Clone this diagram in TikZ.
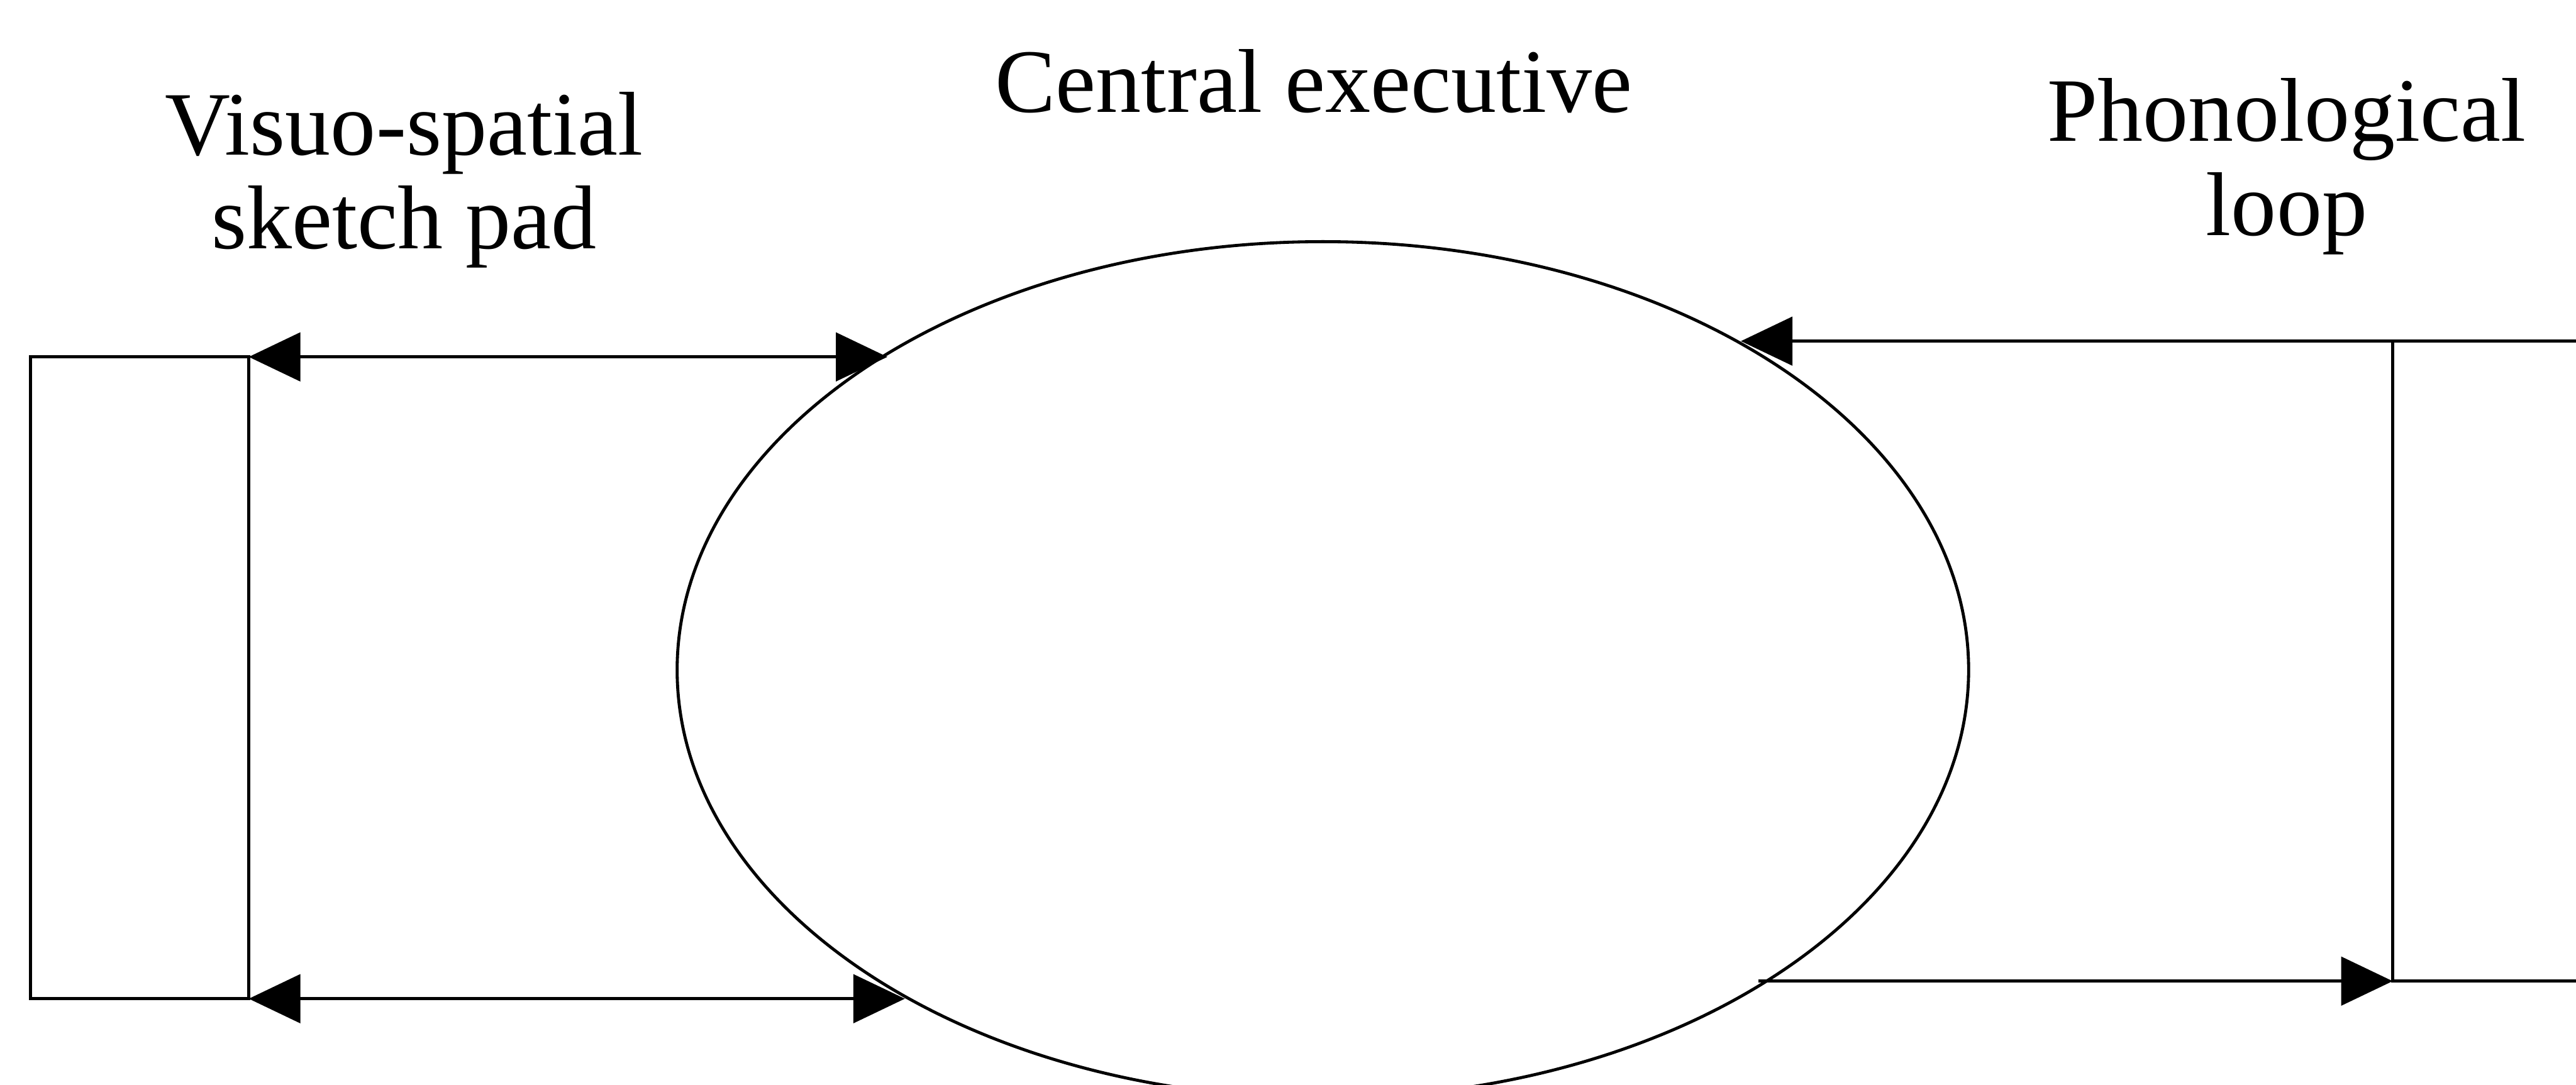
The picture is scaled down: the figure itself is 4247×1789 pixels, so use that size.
\documentclass[tikz,border=0pt]{standalone}
\usepackage{fontspec}
\setmainfont{Liberation Serif}
\usetikzlibrary{arrows.meta,shapes.geometric}
\begin{document}
\begin{tikzpicture}[x=0.01cm,y=0.01cm,
  conn/.style={line width=0.05cm, black},
  head/.tip={Triangle[length=8.5mm,width=8mm]},
  lbl/.style={font=\fontsize{42.5pt}{44pt}\selectfont, align=center, inner sep=0pt, outer sep=0pt},
  box/.style={draw, line width=0.05cm, rectangle, inner sep=0pt, outer sep=0pt},
  oval/.style={draw, ellipse, line width=0.05cm, inner sep=0pt, outer sep=0pt}
]
\useasboundingbox (0,0) rectangle (4247,-1789);
\clip (0,0) rectangle (4247,-1789);
% components
\node[box, minimum width=3.6cm, minimum height=10.58cm] (vsp) at (230,-1118) {};
\node[box, minimum width=5cm, minimum height=10.55cm] (pl) at (4195,-1090.5) {};
\node[oval, minimum width=21.28cm, minimum height=14.12cm] (ce) at (2181,-1105) {};
% connectors
\draw[conn, head-head] (vsp.north east) -- (vsp.north east -| ce.144.6);
\draw[conn, head-head] (vsp.south east) -- (vsp.south east -| ce.218.5);
\draw[conn, -head] (pl.north west) -- (pl.north west -| ce.38.25);
\draw[conn, -head] (pl.south west -| ce.324.94) -- (pl.south west);
% labels
\node[lbl, anchor=base] (cetext) at (2166,-185) {Central executive};
\node[lbl, anchor=base] (vstext) at (666,-410) {Visuo-spatial\\sketch pad};
\node[lbl, anchor=base] (pltext) at (3770,-388) {Phonological\\loop};
\end{tikzpicture}
\end{document}
